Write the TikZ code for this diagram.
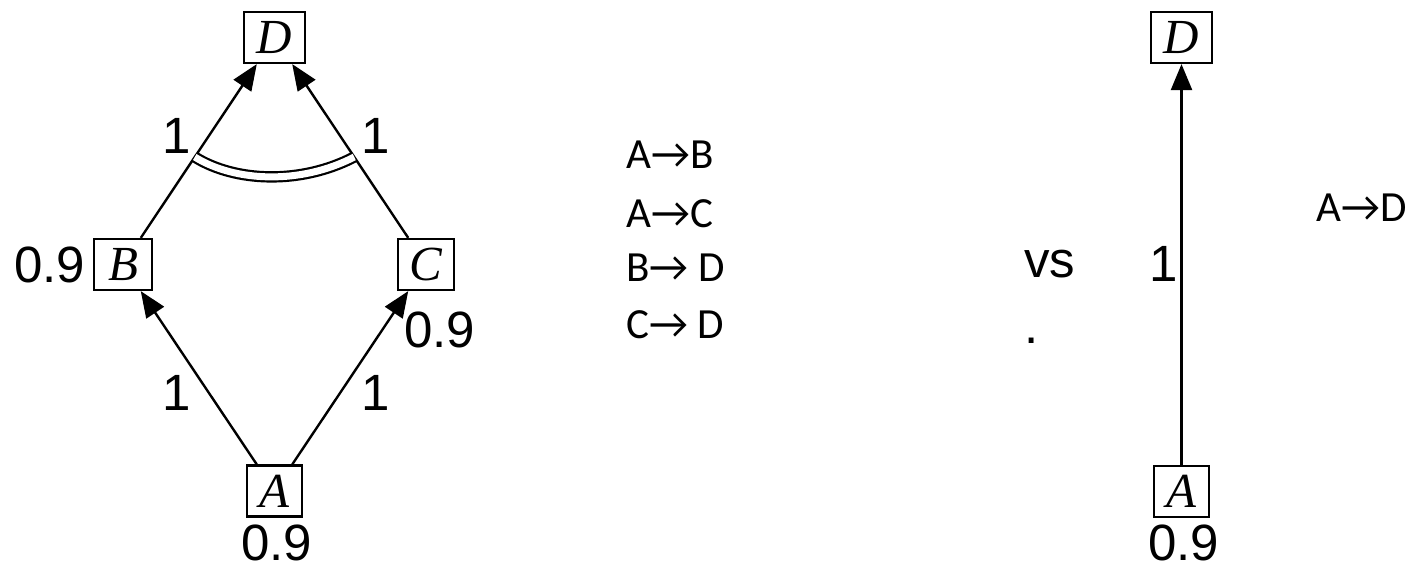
\documentclass[tikz,border=0pt]{standalone}
\usepackage{fontspec}
\setmainfont{Liberation Sans}
\newfontfamily\serifit{Liberation Serif}
\newfontfamily\calfont{Carlito}
\usetikzlibrary{arrows.meta,calc}
\begin{document}
\begin{tikzpicture}[x=1pt,y=-1pt,
  box/.style={draw, line width=2.2pt, minimum height=51pt, inner sep=0pt,
    font=\fontsize{49}{49}\selectfont\serifit\itshape},
  lbl/.style={font=\fontsize{51}{51}\selectfont, inner sep=0pt},
  txt/.style={font=\fontsize{43}{43}\selectfont\calfont, inner sep=0pt, anchor=base west},
  conn/.style={line width=2.4pt, -{Triangle[length=26pt,width=21pt]}},
  link/.style={double, line width=2.2pt, double distance=7pt}]
\useasboundingbox (0,0) rectangle (1416,568);
% left graph
\node[box, minimum width=61pt] (D) at (274.5,37.5) {D};
\node[box, minimum width=58pt] (B) at (123,264.5) {B};
\node[box, minimum width=56pt] (C) at (426,264.5) {C};
\node[box, minimum width=55pt] (A) at (274.5,491) {A};
\draw[conn] (A) -- (B);
\draw[conn] (A) -- (C);
\draw[conn] (B) -- (D);
\draw[conn] (C) -- (D);
\coordinate (p1) at ($(B)!0.4736!(D)$);
\coordinate (p2) at ($(C)!0.4736!(D)$);
\draw[link] (p1) .. controls +(40,25) and +(-54,28) .. (p2);
\node[lbl, anchor=base west] (lB) at (14,282) {0.9};
\node[lbl, anchor=base west] (lC) at (404,347) {0.9};
\node[lbl, anchor=base west] (lA) at (241,560) {0.9};
\node[lbl, anchor=base] (eAB) at (177,410) {1};
\node[lbl, anchor=base] (eAC) at (375.5,410) {1};
\node[lbl, anchor=base] (eBD) at (177,153) {1};
\node[lbl, anchor=base] (eCD) at (375.5,153) {1};
% list
\node[txt] (t1) at (626,168) {A→B};
\node[txt] (t2) at (626,227) {A→C};
\node[txt] (t3) at (626,281) {B→ D};
\node[txt] (t4) at (626,338) {C→ D};
% vs
\node[lbl, anchor=base west] (vs) at (1024,277) {vs};
\node[lbl, anchor=base west] (dot) at (1024,343) {.};
% right graph
\node[box, minimum width=61pt] (D2) at (1181.5,37.5) {D};
\node[box, minimum width=55pt] (A2) at (1181.5,491.5) {A};
\draw[conn] (A2) -- (D2);
\node[lbl, anchor=base] (eAD) at (1163.5,281) {1};
\node[lbl, anchor=base west] (lA2) at (1148,560) {0.9};
\node[txt] (t5) at (1316,221) {A→D};
\end{tikzpicture}
\end{document}
